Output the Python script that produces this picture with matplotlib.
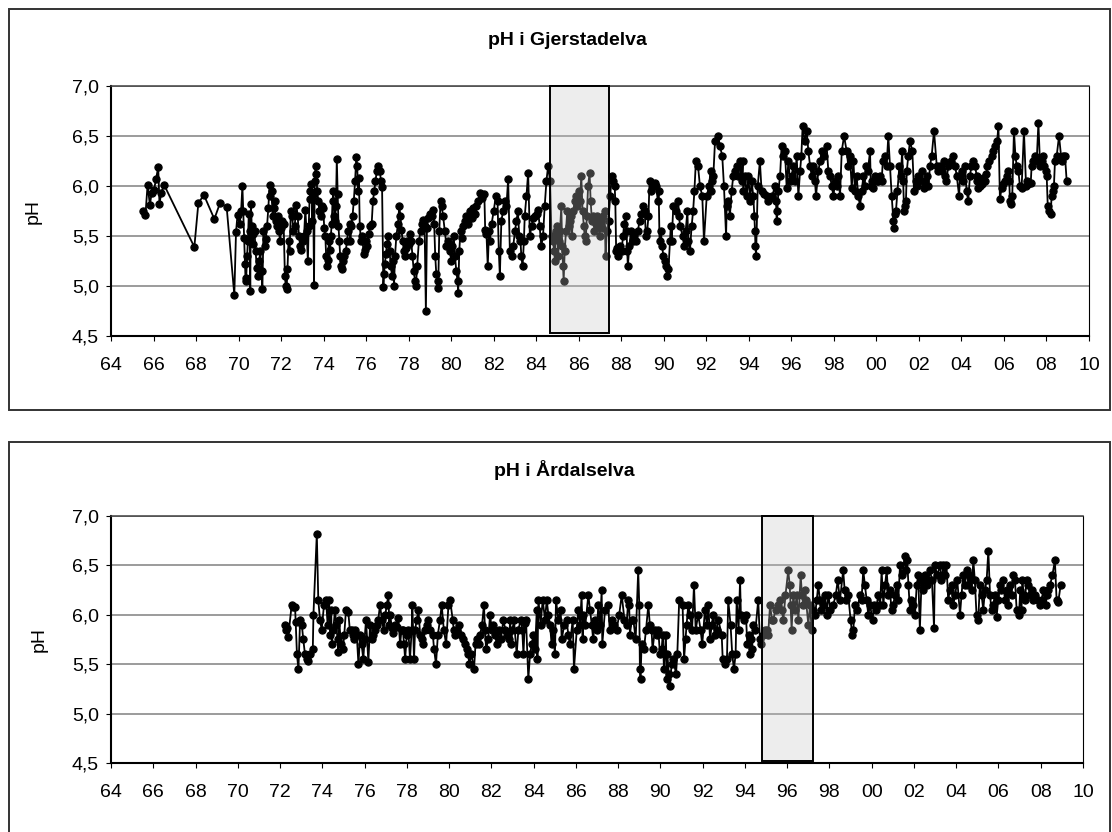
import numpy as np
import matplotlib
matplotlib.use('Agg')
import matplotlib.pyplot as plt
from matplotlib.patches import Rectangle
from matplotlib.ticker import FuncFormatter

plt.rcParams['font.family'] = ['Liberation Sans', 'DejaVu Sans']

# ----------------------------------------------------------------------------------------------------------------------
#  DATA  (decimal year, pH)
# ----------------------------------------------------------------------------------------------------------------------
gj_title = 'pH i Gjerstadelva'
gj_year = [
    1965.52, 1965.62, 1965.72, 1965.83, 1965.91, 1966.02, 1966.12, 1966.22, 1966.28, 1966.36,
    1966.50, 1967.92, 1968.11, 1968.37, 1968.86, 1969.13, 1969.44, 1969.80, 1969.88, 1969.95,
    1970.05, 1970.12, 1970.18, 1970.22, 1970.26, 1970.30, 1970.33, 1970.36, 1970.40, 1970.44,
    1970.48, 1970.52, 1970.55, 1970.58, 1970.62, 1970.66, 1970.70, 1970.75, 1970.80, 1970.86,
    1970.92, 1970.97, 1971.02, 1971.08, 1971.12, 1971.17, 1971.22, 1971.28, 1971.34, 1971.40,
    1971.46, 1971.50, 1971.55, 1971.60, 1971.65, 1971.70, 1971.75, 1971.80, 1971.85, 1971.90,
    1971.95, 1972.00, 1972.06, 1972.12, 1972.18, 1972.22, 1972.26, 1972.30, 1972.35, 1972.40,
    1972.46, 1972.52, 1972.58, 1972.64, 1972.72, 1972.78, 1972.84, 1972.90, 1972.96, 1973.02,
    1973.08, 1973.14, 1973.20, 1973.26, 1973.30, 1973.34, 1973.38, 1973.43, 1973.47, 1973.51,
    1973.55, 1973.58, 1973.62, 1973.66, 1973.70, 1973.75, 1973.80, 1973.86, 1973.92, 1973.98,
    1974.03, 1974.08, 1974.12, 1974.16, 1974.20, 1974.25, 1974.30, 1974.34, 1974.38, 1974.42,
    1974.46, 1974.50, 1974.54, 1974.58, 1974.62, 1974.66, 1974.70, 1974.74, 1974.78, 1974.82,
    1974.86, 1974.92, 1974.98, 1975.04, 1975.10, 1975.16, 1975.22, 1975.26, 1975.30, 1975.36,
    1975.42, 1975.48, 1975.54, 1975.58, 1975.62, 1975.66, 1975.70, 1975.76, 1975.82, 1975.88,
    1975.94, 1976.00, 1976.06, 1976.12, 1976.18, 1976.26, 1976.32, 1976.38, 1976.44, 1976.50,
    1976.58, 1976.64, 1976.70, 1976.75, 1976.81, 1976.84, 1976.88, 1976.93, 1976.98, 1977.04,
    1977.10, 1977.16, 1977.22, 1977.28, 1977.31, 1977.36, 1977.42, 1977.50, 1977.56, 1977.61,
    1977.66, 1977.72, 1977.78, 1977.82, 1977.88, 1977.94, 1978.00, 1978.06, 1978.12, 1978.18,
    1978.24, 1978.30, 1978.34, 1978.40, 1978.48, 1978.56, 1978.62, 1978.69, 1978.75, 1978.81,
    1978.86, 1978.92, 1979.00, 1979.08, 1979.15, 1979.20, 1979.25, 1979.30, 1979.36, 1979.39,
    1979.44, 1979.50, 1979.55, 1979.62, 1979.70, 1979.78, 1979.86, 1979.94, 1980.00, 1980.06,
    1980.12, 1980.18, 1980.24, 1980.30, 1980.33, 1980.38, 1980.44, 1980.50, 1980.56, 1980.64,
    1980.72, 1980.80, 1980.88, 1980.96, 1981.04, 1981.12, 1981.19, 1981.26, 1981.35, 1981.45,
    1981.56, 1981.60, 1981.66, 1981.72, 1981.78, 1981.82, 1981.90, 1982.00, 1982.10, 1982.18,
    1982.24, 1982.29, 1982.36, 1982.44, 1982.52, 1982.60, 1982.68, 1982.76, 1982.84, 1982.92,
    1983.00, 1983.07, 1983.14, 1983.20, 1983.26, 1983.30, 1983.36, 1983.42, 1983.46, 1983.54,
    1983.62, 1983.70, 1983.78, 1983.86, 1983.94, 1984.02, 1984.09, 1984.16, 1984.24, 1984.32,
    1984.40, 1984.48, 1984.56, 1984.65, 1984.72, 1984.79, 1984.84, 1984.88, 1984.92, 1984.96,
    1985.00, 1985.03, 1985.08, 1985.12, 1985.18, 1985.22, 1985.26, 1985.29, 1985.34, 1985.40,
    1985.46, 1985.52, 1985.57, 1985.62, 1985.68, 1985.74, 1985.81, 1985.86, 1985.92, 1986.00,
    1986.06, 1986.12, 1986.18, 1986.24, 1986.28, 1986.33, 1986.38, 1986.44, 1986.51, 1986.56,
    1986.62, 1986.68, 1986.74, 1986.80, 1986.86, 1986.92, 1986.98, 1987.04, 1987.10, 1987.16,
    1987.22, 1987.26, 1987.32, 1987.40, 1987.48, 1987.55, 1987.62, 1987.69, 1987.72, 1987.76,
    1987.80, 1987.84, 1987.90, 1987.96, 1988.02, 1988.08, 1988.14, 1988.20, 1988.25, 1988.28,
    1988.31, 1988.38, 1988.46, 1988.54, 1988.62, 1988.70, 1988.78, 1988.86, 1988.94, 1989.02,
    1989.10, 1989.16, 1989.22, 1989.28, 1989.33, 1989.42, 1989.50, 1989.57, 1989.64, 1989.72,
    1989.76, 1989.80, 1989.86, 1989.92, 1989.98, 1990.04, 1990.10, 1990.16, 1990.22, 1990.29,
    1990.33, 1990.37, 1990.45, 1990.56, 1990.68, 1990.72, 1990.76, 1990.89, 1990.95, 1991.03,
    1991.11, 1991.15, 1991.23, 1991.31, 1991.38, 1991.44, 1991.51, 1991.61, 1991.70, 1991.81,
    1991.89, 1992.02, 1992.13, 1992.20, 1992.24, 1992.28, 1992.33, 1992.41, 1992.56, 1992.64,
    1992.75, 1992.83, 1992.93, 1992.96, 1993.04, 1993.11, 1993.19, 1993.27, 1993.35, 1993.43,
    1993.50, 1993.58, 1993.66, 1993.71, 1993.74, 1993.82, 1993.90, 1993.98, 1994.06, 1994.13,
    1994.21, 1994.26, 1994.29, 1994.31, 1994.34, 1994.42, 1994.52, 1994.60, 1994.70, 1994.84,
    1994.92, 1994.99, 1995.10, 1995.23, 1995.28, 1995.31, 1995.34, 1995.39, 1995.47, 1995.54,
    1995.62, 1995.70, 1995.78, 1995.86, 1995.94, 1996.01, 1996.09, 1996.17, 1996.25, 1996.33,
    1996.41, 1996.47, 1996.53, 1996.62, 1996.72, 1996.80, 1996.88, 1996.96, 1997.04, 1997.11,
    1997.16, 1997.27, 1997.35, 1997.43, 1997.55, 1997.66, 1997.74, 1997.82, 1997.90, 1997.98,
    1998.06, 1998.13, 1998.21, 1998.29, 1998.37, 1998.48, 1998.60, 1998.68, 1998.76, 1998.84,
    1998.92, 1998.99, 1999.07, 1999.15, 1999.23, 1999.31, 1999.39, 1999.45, 1999.51, 1999.60,
    1999.70, 1999.74, 1999.80, 1999.86, 1999.94, 2000.02, 2000.09, 2000.17, 2000.25, 2000.30,
    2000.41, 2000.48, 2000.56, 2000.64, 2000.72, 2000.80, 2000.83, 2000.88, 2000.92, 2000.99,
    2001.08, 2001.15, 2001.21, 2001.26, 2001.30, 2001.35, 2001.39, 2001.43, 2001.50, 2001.58,
    2001.69, 2001.77, 2001.84, 2001.90, 2001.97, 2002.05, 2002.14, 2002.24, 2002.30, 2002.37,
    2002.45, 2002.52, 2002.60, 2002.71, 2002.84, 2002.92, 2002.99, 2003.08, 2003.16, 2003.23,
    2003.28, 2003.39, 2003.50, 2003.62, 2003.70, 2003.78, 2003.89, 2003.93, 2004.01, 2004.09,
    2004.17, 2004.24, 2004.32, 2004.40, 2004.47, 2004.53, 2004.64, 2004.72, 2004.75, 2004.79,
    2004.87, 2004.95, 2005.03, 2005.11, 2005.17, 2005.22, 2005.31, 2005.42, 2005.50, 2005.58,
    2005.68, 2005.74, 2005.81, 2005.89, 2005.97, 2006.05, 2006.13, 2006.21, 2006.25, 2006.28,
    2006.32, 2006.39, 2006.47, 2006.54, 2006.60, 2006.68, 2006.75, 2006.83, 2006.94, 2007.04,
    2007.10, 2007.15, 2007.26, 2007.30, 2007.38, 2007.46, 2007.54, 2007.62, 2007.70, 2007.77,
    2007.82, 2007.88, 2007.96, 2008.01, 2008.06, 2008.12, 2008.20, 2008.24, 2008.30, 2008.35,
    2008.40, 2008.48, 2008.59, 2008.71, 2008.80, 2008.87, 2008.95,
]
gj_ph = [
    5.75, 5.71, 6.01, 5.81, 5.93, 5.96, 6.07, 6.19, 5.82, 5.93,
    6.01, 5.39, 5.83, 5.91, 5.67, 5.83, 5.79, 4.91, 5.54, 5.71,
    5.62, 5.75, 6.00, 5.75, 5.48, 5.22, 5.05, 5.08, 5.30, 5.45,
    5.72, 5.55, 4.95, 5.82, 5.60, 5.42, 5.52, 5.55, 5.35, 5.18,
    5.10, 5.25, 5.35, 5.15, 4.97, 5.55, 5.40, 5.47, 5.60, 5.78,
    6.01, 5.90, 5.95, 5.70, 5.78, 5.85, 5.65, 5.60, 5.70, 5.55,
    5.45, 5.58, 5.65, 5.62, 5.10, 5.00, 4.97, 5.17, 5.45, 5.35,
    5.75, 5.70, 5.55, 5.60, 5.81, 5.70, 5.50, 5.40, 5.36, 5.45,
    5.50, 5.76, 5.55, 5.25, 5.60, 5.87, 5.95, 6.02, 5.65, 5.90,
    5.01, 6.05, 6.20, 6.12, 5.95, 5.85, 5.75, 5.70, 5.80, 5.78,
    5.58, 5.50, 5.30, 5.20, 5.26, 5.45, 5.36, 5.50, 5.62, 5.85,
    5.95, 5.70, 5.65, 5.80, 6.27, 5.92, 5.60, 5.45, 5.30, 5.20,
    5.17, 5.25, 5.30, 5.35, 5.45, 5.55, 5.62, 5.45, 5.60, 5.70,
    5.85, 6.05, 6.29, 6.20, 5.95, 6.08, 5.60, 5.45, 5.50, 5.32,
    5.36, 5.45, 5.40, 5.52, 5.60, 5.62, 5.85, 5.95, 6.05, 6.15,
    6.20, 6.15, 6.05, 5.99, 4.99, 5.12, 5.22, 5.32, 5.42, 5.50,
    5.35, 5.20, 5.10, 5.25, 5.00, 5.30, 5.50, 5.62, 5.80, 5.70,
    5.56, 5.45, 5.35, 5.30, 5.38, 5.45, 5.42, 5.52, 5.45, 5.30,
    5.15, 5.05, 5.00, 5.20, 5.45, 5.55, 5.62, 5.66, 5.60, 4.75,
    5.58, 5.68, 5.72, 5.70, 5.76, 5.62, 5.30, 5.12, 5.05, 4.98,
    5.55, 5.85, 5.80, 5.70, 5.55, 5.40, 5.45, 5.35, 5.25, 5.40,
    5.50, 5.30, 5.15, 5.05, 4.93, 5.35, 5.55, 5.48, 5.60, 5.65,
    5.70, 5.62, 5.75, 5.68, 5.78, 5.72, 5.80, 5.85, 5.93, 5.88,
    5.92, 5.56, 5.52, 5.20, 5.55, 5.45, 5.62, 5.75, 5.90, 5.85,
    5.35, 5.10, 5.65, 5.75, 5.85, 5.80, 6.07, 5.35, 5.30, 5.40,
    5.55, 5.65, 5.75, 5.50, 5.45, 5.30, 5.20, 5.45, 5.70, 5.90,
    6.13, 5.50, 5.60, 5.68, 5.70, 5.72, 5.76, 5.60, 5.40, 5.50,
    5.80, 6.05, 6.20, 6.05, 5.50, 5.45, 5.35, 5.25, 5.55, 5.60,
    5.50, 5.30, 5.45, 5.55, 5.80, 5.40, 5.20, 5.05, 5.35, 5.55,
    5.75, 5.60, 5.65, 5.70, 5.50, 5.75, 5.85, 5.90, 5.80, 5.95,
    5.85, 6.10, 5.75, 5.60, 5.50, 5.45, 5.70, 6.00, 6.13, 5.85,
    5.65, 5.70, 5.55, 5.62, 5.70, 5.60, 5.50, 5.65, 5.58, 5.70,
    5.75, 5.30, 5.55, 5.65, 5.90, 6.10, 6.05, 6.00, 5.85, 5.35,
    5.38, 5.30, 5.35, 5.40, 5.35, 5.50, 5.62, 5.70, 5.55, 5.35,
    5.20, 5.40, 5.55, 5.45, 5.50, 5.45, 5.55, 5.65, 5.72, 5.80,
    5.75, 5.50, 5.55, 5.70, 6.05, 5.95, 6.00, 6.03, 6.00, 5.85,
    5.95, 5.45, 5.55, 5.40, 5.30, 5.25, 5.20, 5.10, 5.17, 5.45,
    5.60, 5.45, 5.80, 5.75, 5.85, 5.70, 5.60, 5.50, 5.40, 5.55,
    5.75, 5.45, 5.35, 5.60, 5.75, 5.95, 6.25, 6.20, 6.00, 5.90,
    5.45, 5.90, 6.00, 6.15, 5.95, 6.05, 6.10, 6.45, 6.50, 6.40,
    6.30, 6.00, 5.50, 5.80, 5.85, 5.70, 5.95, 6.10, 6.15, 6.20,
    6.10, 6.25, 6.05, 6.25, 5.95, 6.10, 5.90, 6.10, 5.85, 6.05,
    5.90, 5.70, 5.55, 5.40, 5.30, 6.00, 6.25, 5.95, 5.92, 5.90,
    5.85, 5.88, 5.90, 6.00, 5.85, 5.65, 5.75, 5.95, 6.10, 6.40,
    6.30, 6.35, 5.98, 6.25, 6.05, 6.10, 6.20, 6.05, 6.30, 5.90,
    6.15, 6.30, 6.60, 6.45, 6.55, 6.35, 6.20, 6.10, 6.20, 6.05,
    5.90, 6.15, 6.25, 6.35, 6.30, 6.40, 6.15, 6.10, 6.00, 5.90,
    6.05, 6.00, 6.10, 5.90, 6.35, 6.50, 6.35, 6.20, 6.30, 5.98,
    6.25, 5.95, 6.10, 5.90, 5.80, 5.95, 6.10, 6.00, 6.20, 6.15,
    6.35, 6.00, 6.05, 5.98, 6.10, 6.05, 6.05, 6.10, 6.05, 6.25,
    6.30, 6.20, 6.50, 6.20, 5.90, 5.65, 5.58, 5.72, 5.75, 5.95,
    6.20, 6.10, 6.35, 6.05, 5.75, 5.80, 5.85, 6.15, 6.30, 6.45,
    6.35, 5.95, 6.05, 6.00, 6.10, 6.05, 6.15, 5.98, 6.05, 6.10,
    6.00, 6.20, 6.30, 6.55, 6.20, 6.15, 6.20, 6.15, 6.25, 6.10,
    6.05, 6.20, 6.25, 6.30, 6.20, 6.10, 5.90, 6.10, 6.15, 6.05,
    6.20, 5.95, 5.85, 6.10, 6.20, 6.25, 6.20, 6.10, 6.05, 5.98,
    6.00, 6.02, 6.08, 6.05, 6.12, 6.20, 6.25, 6.30, 6.35, 6.40,
    6.45, 6.60, 5.87, 5.98, 6.02, 6.05, 6.10, 6.15, 6.05, 5.85,
    5.82, 5.90, 6.55, 6.30, 6.20, 6.15, 6.00, 5.98, 6.55, 6.00,
    6.05, 6.02, 6.03, 6.20, 6.25, 6.30, 6.25, 6.63, 6.20, 6.25,
    6.30, 6.20, 6.15, 6.10, 5.80, 5.75, 5.72, 5.90, 5.95, 6.00,
    6.25, 6.30, 6.50, 6.25, 6.30, 6.30, 6.05,
]
gj_shade = [1984.65, 1987.42]

ard_title = 'pH i Årdalselva'
ard_year = [
    1972.24, 1972.28, 1972.32, 1972.39, 1972.55, 1972.63, 1972.71, 1972.74, 1972.80, 1972.87,
    1972.95, 1973.03, 1973.10, 1973.18, 1973.26, 1973.34, 1973.42, 1973.55, 1973.58, 1973.74,
    1973.81, 1973.89, 1973.97, 1974.08, 1974.18, 1974.25, 1974.32, 1974.37, 1974.42, 1974.45,
    1974.52, 1974.60, 1974.66, 1974.72, 1974.76, 1974.80, 1974.88, 1974.97, 1975.04, 1975.12,
    1975.23, 1975.30, 1975.39, 1975.45, 1975.50, 1975.56, 1975.63, 1975.71, 1975.79, 1975.86,
    1975.94, 1976.00, 1976.07, 1976.18, 1976.26, 1976.34, 1976.42, 1976.50, 1976.58, 1976.65,
    1976.73, 1976.82, 1976.90, 1976.98, 1977.05, 1977.13, 1977.17, 1977.21, 1977.29, 1977.36,
    1977.45, 1977.53, 1977.60, 1977.68, 1977.75, 1977.81, 1977.87, 1977.92, 1978.00, 1978.07,
    1978.15, 1978.23, 1978.26, 1978.34, 1978.39, 1978.47, 1978.55, 1978.63, 1978.70, 1978.78,
    1978.86, 1978.94, 1979.02, 1979.12, 1979.23, 1979.29, 1979.38, 1979.47, 1979.57, 1979.65,
    1979.75, 1979.86, 1979.97, 1980.05, 1980.17, 1980.22, 1980.28, 1980.38, 1980.49, 1980.58,
    1980.68, 1980.75, 1980.83, 1980.90, 1980.96, 1981.06, 1981.18, 1981.25, 1981.31, 1981.40,
    1981.47, 1981.56, 1981.65, 1981.70, 1981.75, 1981.85, 1981.94, 1982.02, 1982.10, 1982.18,
    1982.25, 1982.35, 1982.45, 1982.57, 1982.66, 1982.76, 1982.84, 1982.89, 1982.93, 1983.00,
    1983.07, 1983.20, 1983.28, 1983.39, 1983.46, 1983.52, 1983.58, 1983.64, 1983.75, 1983.83,
    1983.91, 1983.99, 1984.07, 1984.15, 1984.18, 1984.23, 1984.33, 1984.43, 1984.54, 1984.62,
    1984.70, 1984.78, 1984.85, 1984.92, 1985.01, 1985.06, 1985.17, 1985.28, 1985.33, 1985.45,
    1985.56, 1985.64, 1985.72, 1985.85, 1985.91, 1986.04, 1986.11, 1986.20, 1986.27, 1986.32,
    1986.35, 1986.45, 1986.59, 1986.67, 1986.75, 1986.82, 1986.90, 1987.00, 1987.06, 1987.15,
    1987.22, 1987.25, 1987.38, 1987.53, 1987.60, 1987.69, 1987.80, 1987.93, 1988.05, 1988.17,
    1988.30, 1988.40, 1988.48, 1988.52, 1988.56, 1988.64, 1988.72, 1988.83, 1988.95, 1989.00,
    1989.03, 1989.06, 1989.11, 1989.22, 1989.32, 1989.43, 1989.50, 1989.58, 1989.63, 1989.74,
    1989.85, 1989.90, 1989.98, 1990.06, 1990.11, 1990.17, 1990.26, 1990.30, 1990.33, 1990.40,
    1990.45, 1990.53, 1990.61, 1990.74, 1990.80, 1990.89, 1991.05, 1991.12, 1991.19, 1991.24,
    1991.32, 1991.40, 1991.50, 1991.59, 1991.67, 1991.79, 1991.90, 1991.98, 1992.11, 1992.20,
    1992.27, 1992.35, 1992.43, 1992.50, 1992.58, 1992.66, 1992.74, 1992.90, 1992.95, 1993.06,
    1993.15, 1993.21, 1993.32, 1993.40, 1993.48, 1993.56, 1993.61, 1993.70, 1993.77, 1993.81,
    1993.95, 1994.05, 1994.11, 1994.18, 1994.24, 1994.27, 1994.34, 1994.40, 1994.50, 1994.63,
    1994.71, 1994.76, 1994.87, 1994.95, 1995.03, 1995.10, 1995.19, 1995.28, 1995.34, 1995.45,
    1995.56, 1995.66, 1995.74, 1995.82, 1995.92, 1996.05, 1996.12, 1996.16, 1996.21, 1996.29,
    1996.37, 1996.45, 1996.53, 1996.64, 1996.70, 1996.76, 1996.82, 1996.89, 1997.00, 1997.08,
    1997.16, 1997.24, 1997.32, 1997.40, 1997.47, 1997.55, 1997.62, 1997.71, 1997.80, 1997.87,
    1997.95, 1998.05, 1998.18, 1998.30, 1998.39, 1998.50, 1998.65, 1998.72, 1998.78, 1998.89,
    1999.00, 1999.08, 1999.13, 1999.21, 1999.32, 1999.44, 1999.52, 1999.60, 1999.68, 1999.76,
    1999.84, 1999.92, 2000.04, 2000.12, 2000.20, 2000.31, 2000.40, 2000.47, 2000.55, 2000.63,
    2000.71, 2000.78, 2000.86, 2000.94, 2001.02, 2001.10, 2001.18, 2001.26, 2001.34, 2001.45,
    2001.57, 2001.62, 2001.68, 2001.74, 2001.81, 2001.88, 2001.97, 2002.05, 2002.13, 2002.20,
    2002.28, 2002.36, 2002.44, 2002.52, 2002.60, 2002.68, 2002.76, 2002.85, 2002.95, 2002.99,
    2003.10, 2003.23, 2003.30, 2003.39, 2003.47, 2003.54, 2003.62, 2003.70, 2003.78, 2003.86,
    2003.95, 2004.05, 2004.18, 2004.25, 2004.33, 2004.41, 2004.49, 2004.58, 2004.66, 2004.73,
    2004.81, 2004.88, 2004.96, 2005.04, 2005.12, 2005.20, 2005.28, 2005.36, 2005.44, 2005.52,
    2005.60, 2005.67, 2005.75, 2005.83, 2005.91, 2005.99, 2006.07, 2006.14, 2006.20, 2006.31,
    2006.40, 2006.46, 2006.54, 2006.62, 2006.70, 2006.78, 2006.86, 2006.97, 2007.03, 2007.09,
    2007.13, 2007.19, 2007.25, 2007.33, 2007.41, 2007.49, 2007.57, 2007.65, 2007.73, 2007.85,
    2007.96, 2008.04, 2008.12, 2008.23, 2008.30, 2008.36, 2008.44, 2008.55, 2008.67, 2008.75,
    2008.83, 2008.94,
]
ard_ph = [
    5.90, 5.85, 5.87, 5.78, 6.10, 6.08, 6.08, 5.93, 5.60, 5.45,
    5.95, 5.90, 5.75, 5.60, 5.55, 5.53, 5.60, 5.65, 6.00, 6.82,
    6.15, 5.95, 5.85, 6.10, 6.15, 5.90, 6.15, 5.80, 6.05, 5.70,
    5.85, 6.05, 5.90, 5.75, 5.62, 5.95, 5.70, 5.65, 5.80, 6.05,
    6.03, 5.85, 5.85, 5.80, 5.75, 5.85, 5.80, 5.50, 5.80, 5.70,
    5.55, 5.75, 5.95, 5.52, 5.90, 5.75, 5.80, 5.85, 5.90, 5.95,
    6.10, 5.95, 5.85, 6.00, 6.10, 6.20, 5.90, 6.00, 5.87, 5.82,
    5.90, 5.88, 5.97, 5.70, 5.85, 5.85, 5.70, 5.55, 5.80, 5.85,
    5.55, 5.85, 6.10, 5.55, 5.85, 5.95, 6.05, 5.80, 5.75, 5.70,
    5.85, 5.90, 5.95, 5.85, 5.80, 5.65, 5.50, 5.80, 5.95, 6.10,
    5.85, 5.70, 6.10, 6.15, 5.95, 5.85, 5.80, 5.85, 5.90, 5.80,
    5.75, 5.70, 5.65, 5.60, 5.50, 5.60, 5.45, 5.70, 5.75, 5.70,
    5.80, 5.90, 6.10, 5.85, 5.65, 5.75, 6.00, 5.85, 5.90, 5.80,
    5.70, 5.85, 5.75, 5.95, 5.85, 5.80, 5.75, 5.95, 5.70, 5.85,
    5.95, 5.60, 5.85, 5.95, 5.85, 5.60, 5.92, 5.95, 5.35, 5.60,
    5.70, 5.80, 5.65, 6.05, 5.55, 6.15, 5.90, 6.15, 5.95, 6.15,
    6.00, 5.90, 5.70, 5.85, 5.60, 6.15, 5.95, 6.05, 5.75, 5.90,
    5.95, 5.80, 5.70, 5.95, 5.45, 5.85, 6.05, 5.90, 6.20, 5.75,
    6.00, 5.90, 6.20, 6.05, 5.90, 5.75, 5.95, 5.85, 6.10, 5.90,
    6.25, 5.70, 6.05, 6.10, 5.85, 5.95, 5.90, 5.85, 6.00, 6.20,
    5.95, 5.90, 6.15, 6.10, 5.80, 5.95, 5.95, 5.75, 6.45, 6.10,
    5.45, 5.35, 5.70, 5.65, 5.85, 6.10, 5.90, 5.85, 5.65, 5.85,
    5.80, 5.85, 5.60, 5.65, 5.80, 5.45, 5.80, 5.35, 5.60, 5.40,
    5.28, 5.50, 5.55, 5.40, 5.60, 6.15, 6.10, 5.55, 5.75, 5.90,
    6.10, 6.00, 5.85, 6.30, 5.85, 6.00, 5.85, 5.70, 6.05, 5.90,
    6.10, 5.75, 5.90, 6.00, 5.80, 5.85, 5.95, 5.80, 5.55, 5.50,
    5.55, 6.15, 5.90, 5.60, 5.45, 5.60, 6.15, 5.85, 6.35, 6.00,
    5.95, 6.00, 5.70, 5.80, 5.60, 5.75, 5.65, 5.90, 5.85, 6.15,
    5.75, 5.70, 5.80, 5.85, 5.85, 5.80, 6.10, 5.95, 5.95, 6.05,
    6.10, 6.15, 6.05, 5.95, 6.20, 6.45, 6.30, 6.10, 5.85, 6.20,
    6.05, 6.20, 5.95, 6.40, 6.20, 6.10, 6.25, 6.15, 5.90, 6.10,
    5.85, 6.05, 6.00, 6.15, 6.30, 6.15, 6.05, 6.10, 6.20, 6.00,
    6.20, 6.05, 6.10, 6.20, 6.35, 6.15, 6.45, 6.25, 6.15, 6.20,
    5.95, 5.80, 5.85, 6.10, 6.05, 6.20, 6.15, 6.45, 6.30, 6.15,
    6.00, 6.10, 5.95, 6.10, 6.05, 6.20, 6.10, 6.45, 6.10, 6.30,
    6.45, 6.20, 6.25, 6.05, 6.10, 6.20, 6.30, 6.15, 6.50, 6.40,
    6.60, 6.45, 6.55, 6.30, 6.05, 6.15, 6.10, 6.00, 6.30, 6.40,
    5.85, 6.35, 6.25, 6.40, 6.30, 6.35, 6.45, 6.35, 5.87, 6.50,
    6.40, 6.50, 6.35, 6.50, 6.40, 6.50, 6.15, 6.25, 6.30, 6.10,
    6.20, 6.35, 6.00, 6.20, 6.40, 6.30, 6.45, 6.30, 6.40, 6.25,
    6.55, 6.35, 6.00, 5.95, 6.30, 6.20, 6.05, 6.25, 6.35, 6.65,
    6.20, 6.05, 6.10, 6.20, 5.98, 6.15, 6.30, 6.25, 6.35, 6.15,
    6.25, 6.10, 6.30, 6.20, 6.40, 6.35, 6.05, 6.00, 6.25, 6.05,
    6.35, 6.20, 6.15, 6.35, 6.30, 6.20, 6.25, 6.15, 6.20, 6.15,
    6.10, 6.15, 6.25, 6.10, 6.20, 6.25, 6.30, 6.40, 6.55, 6.15,
    6.13, 6.30,
]
ard_shade = [1994.81, 1997.22]

year_ticks = list(range(1964, 2011, 2))
ph_ticks = [4.5, 5.0, 5.5, 6.0, 6.5, 7.0]

assert len(gj_year) == len(gj_ph) and len(ard_year) == len(ard_ph)

# ----------------------------------------------------------------------------------------------------------------------
#  PLOT
# ----------------------------------------------------------------------------------------------------------------------
W, H = 1112, 832


def draw_panel(ax, years, ph, shade, shade_bottom, label_x):
    ax.set_xlim(1964, 2010)
    ax.set_ylim(4.5, 7.0)
    ax.set_xticks(year_ticks)
    ax.set_yticks(ph_ticks)
    ax.xaxis.set_major_formatter(FuncFormatter(lambda v, p: '%02d' % (int(round(v)) % 100)))
    ax.yaxis.set_major_formatter(FuncFormatter(lambda v, p: ('%.1f' % v).replace('.', ',')))
    ax.grid(axis='y', color='#808080', linewidth=1.1)
    ax.set_axisbelow(True)

    ax.plot(years, ph, '-o', color='black', linewidth=1.3, markersize=5.2,
            markeredgewidth=0.8, zorder=2)

    # shaded period drawn on top so the points inside look grey
    ax.add_patch(Rectangle((shade[0], shade_bottom), shade[1] - shade[0], 7.0 - shade_bottom,
                           facecolor='#c4c4c4', alpha=0.3, edgecolor='none', zorder=3))
    ax.add_patch(Rectangle((shade[0], shade_bottom), shade[1] - shade[0], 7.0 - shade_bottom,
                           fill=False, edgecolor='black', linewidth=1.4, zorder=4, clip_on=False))

    ax.spines['left'].set_linewidth(1.5)
    ax.spines['bottom'].set_linewidth(1.5)
    ax.spines['right'].set_linewidth(0.8)
    ax.spines['top'].set_linewidth(1.1)
    ax.spines['top'].set_color('#404040')

    ax.tick_params(direction='out', length=3.8, width=0.8, labelsize=14, colors='black')
    ax.tick_params(axis='x', pad=11)
    ax.tick_params(axis='y', pad=5)
    ax.set_ylabel('pH', fontsize=14)
    ax.yaxis.set_label_coords(label_x, 0.5)


fig = plt.figure(figsize=(W / 100, H / 100), dpi=100)
fig.patch.set_facecolor('white')

ax1 = fig.add_axes([111 / W, 1 - 336 / H, (1089 - 111) / W, 250 / H])
ax2 = fig.add_axes([111 / W, 1 - 763 / H, (1083 - 111) / W, 247 / H])

draw_panel(ax1, gj_year, gj_ph, gj_shade, 4.53, -0.0706)
draw_panel(ax2, ard_year, ard_ph, ard_shade, 4.52, -0.0648)

# titles
fig.text(567 / W, 1 - 45 / H, gj_title, ha='center', va='baseline', fontsize=14, fontweight='bold')
fig.text(564 / W, 1 - 476 / H, ard_title, ha='center', va='baseline', fontsize=14, fontweight='bold')

# chart-area frames
fig.add_artist(Rectangle((9 / W, 1 - 410 / H), (1110 - 9) / W, (410 - 9) / H,
                         transform=fig.transFigure, fill=False, edgecolor='#333333', linewidth=1.4))
fig.add_artist(Rectangle((9 / W, -0.05), (1110 - 9) / W, 1 - 442 / H + 0.05,
                         transform=fig.transFigure, fill=False, edgecolor='#333333', linewidth=1.4))

fig.savefig('out.png', dpi=100, facecolor='white')
